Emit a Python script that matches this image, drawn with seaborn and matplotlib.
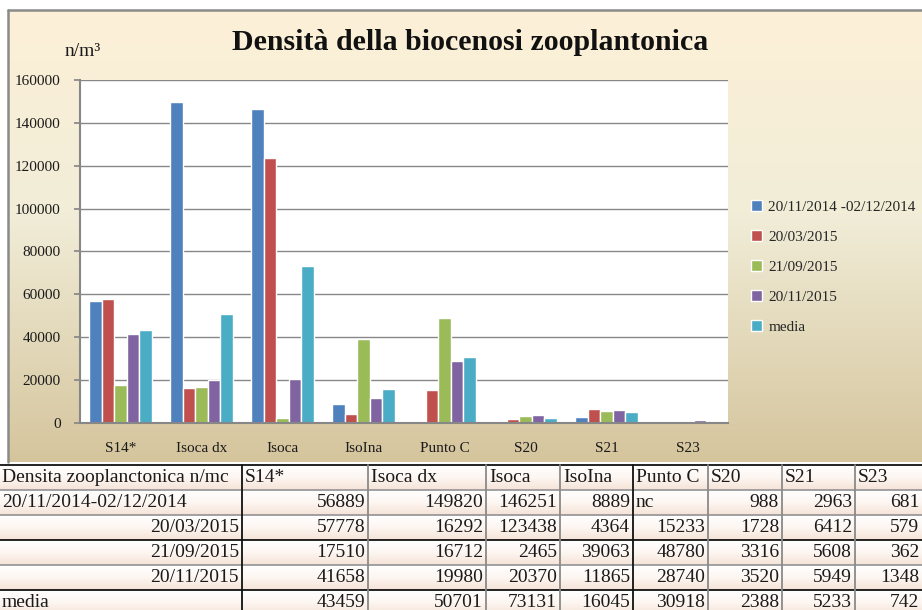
import numpy as np
import pandas as pd
import matplotlib
matplotlib.use("Agg")
import matplotlib.pyplot as plt
import seaborn as sns
from matplotlib.colors import LinearSegmentedColormap

# =======================
# Dati (letti dalla tabella)
# =======================
sites = ["S14*", "Isoca dx", "Isoca", "IsoIna", "Punto C", "S20", "S21", "S23"]
periodi = ["20/11/2014 -02/12/2014", "20/03/2015", "21/09/2015", "20/11/2015", "media"]
row_labels = ["20/11/2014-02/12/2014", "20/03/2015", "21/09/2015", "20/11/2015", "media"]

d_2014 = [56889, 149820, 146251, 8889, np.nan, 988, 2963, 681]
d_mar15 = [57778, 16292, 123438, 4364, 15233, 1728, 6412, 579]
d_set15 = [17510, 16712, 2465, 39063, 48780, 3316, 5608, 362]
d_nov15 = [41658, 19980, 20370, 11865, 28740, 3520, 5949, 1348]
media = [43459, 50701, 73131, 16045, 30918, 2388, 5233, 742]

colori = ["#4F81BD", "#C0504D", "#9BBB59", "#8064A2", "#4BACC6"]

serie = [d_2014, d_mar15, d_set15, d_nov15, media]
df = pd.DataFrame({
    "sito": sites * len(periodi),
    "periodo": [p for p in periodi for _ in sites],
    "densita": [v for s in serie for v in s],
})

sns.set_theme(style="white")
plt.rcParams["font.family"] = ["Liberation Serif", "DejaVu Serif"]

W, H = 922, 610
fig = plt.figure(figsize=(W / 100, H / 100), dpi=100)
fig.patch.set_facecolor("white")

# sfondo in coordinate pixel
bg = fig.add_axes([0, 0, 1, 1])
bg.axis("off")
pan = LinearSegmentedColormap.from_list(
    "pan", [(0, "#fdf0d7"), (0.45, "#f1edd8"), (1, "#d5c59d")])
bg.imshow(np.linspace(0, 1, 256).reshape(-1, 1), cmap=pan, aspect="auto",
          extent=(8, W, 462, 10), zorder=0)
bg.plot([8, 8], [10, 462], color="#8a8a8a", lw=1.8, zorder=1)
bg.plot([8, W], [10, 10], color="#8a8a8a", lw=1.8, zorder=1)

# =======================
# Tabella
# =======================
col_edges = [0, 242, 368, 486, 560, 633, 708, 782, 855, 922]
row_edges = [465, 490, 515, 540, 565, 590, 615]
cella = LinearSegmentedColormap.from_list("cella", ["#ffffff", "#fdf6f1", "#f6e3d8"])
for r0, r1 in zip(row_edges[:-1], row_edges[1:]):
    bg.imshow(np.linspace(0, 1, 64).reshape(-1, 1), cmap=cella, aspect="auto",
              extent=(0, W, r1, r0), zorder=0)

for y in row_edges:
    c = "#111111" if y in (465, 540, 590) else "#9a9a9a"
    bg.plot([0, W], [y, y], color=c, lw=1.3, zorder=2)
for x in col_edges[1:-1]:
    c = "#111111" if x in (242, 633) else "#8a8a8a"
    bg.plot([x, x], [465, 615], color=c, lw=1.3, zorder=2)

fs_tab = 14
tc = "#1a1a1a"
yc = (row_edges[0] + row_edges[1]) / 2
bg.text(2, yc, "Densita zooplanctonica n/mc", ha="left", va="center",
        fontsize=fs_tab, color=tc)
for j, s in enumerate(sites):
    bg.text(col_edges[j + 1] + 3, yc, s, ha="left", va="center", fontsize=fs_tab, color=tc)

for i, (lab, vals) in enumerate(zip(row_labels, serie)):
    yc = (row_edges[i + 1] + row_edges[i + 2]) / 2
    if i in (0, 4):
        bg.text(2, yc, lab, ha="left", va="center", fontsize=fs_tab, color=tc)
    else:
        bg.text(col_edges[1] - 3, yc, lab, ha="right", va="center", fontsize=fs_tab, color=tc)
    for j, v in enumerate(vals):
        if np.isnan(v):
            bg.text(col_edges[j + 1] + 3, yc, "nc", ha="left", va="center",
                    fontsize=fs_tab, color=tc)
        else:
            bg.text(col_edges[j + 2] - 3, yc, f"{int(v)}", ha="right", va="center",
                    fontsize=fs_tab, color=tc)

bg.set_xlim(0, W)
bg.set_ylim(H, 0)

# =======================
# Grafico a barre
# =======================
ax = fig.add_axes([80 / W, (H - 423) / H, 648 / W, 343 / H])
ax.set_facecolor("white")
sns.barplot(data=df, x="sito", y="densita", hue="periodo", order=sites,
            hue_order=periodi, palette=colori, errorbar=None, width=0.77,
            saturation=1, ax=ax, zorder=2)

ax.set_ylim(0, 160000)
ax.set_yticks(range(0, 160001, 20000))
ax.set_yticklabels([str(v) for v in range(0, 160001, 20000)])
ax.yaxis.grid(True, color="#878787", lw=1)
ax.set_axisbelow(True)
for s in ["top", "right"]:
    ax.spines[s].set_visible(False)
for s in ["left", "bottom"]:
    ax.spines[s].set_color("#878787")
    ax.spines[s].set_linewidth(1.5)
    ax.spines[s].set_zorder(3)
ax.set_xlabel("")
ax.set_ylabel("")
ax.tick_params(axis="y", left=True, length=4, color="#878787", labelsize=11,
               pad=10, labelcolor="#1a1a1a")
ax.tick_params(axis="x", bottom=False, labelsize=11, pad=8, labelcolor="#1a1a1a")

ax.legend(loc="upper left", bbox_to_anchor=(737 / W, 1 - 186 / H),
          bbox_transform=fig.transFigure, frameon=False, fontsize=11,
          handlelength=0.75, handleheight=0.75, handletextpad=0.4,
          labelspacing=1.05, title=None)

fig.text(470 / W, 1 - 42 / H, "Densità della biocenosi zooplantonica",
         ha="center", va="center", fontsize=21.5, fontweight="bold", color="#111111")
fig.text(65 / W, 1 - 52 / H, "n/m³", ha="left", va="center", fontsize=14,
         color="#1a1a1a")

fig.savefig("out.png", dpi=100)
